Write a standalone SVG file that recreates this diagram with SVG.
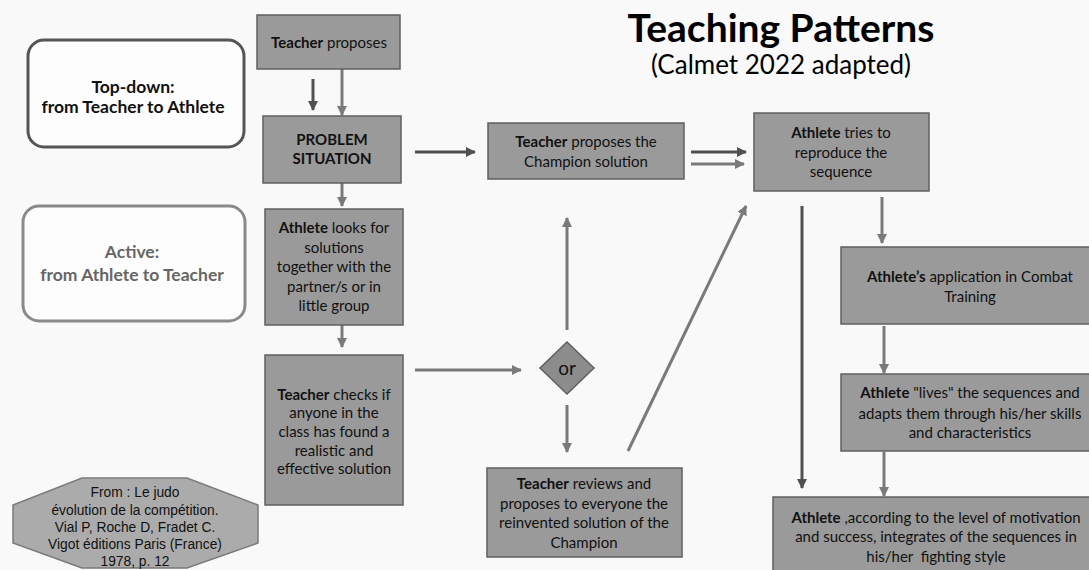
<svg xmlns="http://www.w3.org/2000/svg" width="1089" height="570" viewBox="0 0 1089 570">
<style>
.box{fill:#9a9a9a;stroke:#5f5f5f;stroke-width:1.5}
.t{font-family:Lato,"Open Sans",sans-serif;font-size:15px;fill:#111;text-anchor:middle}
.b{font-weight:bold}
.lg{font-size:17.5px}
.dk{stroke:#505050;stroke-width:3;fill:none}
.gy{stroke:#7a7a7a;stroke-width:3;fill:none}
</style>
<defs>
<marker id="ad" viewBox="0 0 10 10" refX="9" refY="5" markerWidth="10" markerHeight="10" markerUnits="userSpaceOnUse" orient="auto"><path d="M0,0 L10,5 L0,10 z" fill="#505050"/></marker>
<marker id="ag" viewBox="0 0 10 10" refX="9" refY="5" markerWidth="10" markerHeight="10" markerUnits="userSpaceOnUse" orient="auto"><path d="M0,0 L10,5 L0,10 z" fill="#7a7a7a"/></marker>
</defs>
<rect width="1089" height="570" fill="#f9f9f9"/>
<g id="title">
<text x="781" y="42" font-family="Lato,'Open Sans',sans-serif" font-weight="bold" font-size="39" text-anchor="middle" fill="#000">Teaching Patterns</text>
<text x="781" y="74" font-family="Lato,'Open Sans',sans-serif" font-size="26" text-anchor="middle" fill="#000">(Calmet 2022 adapted)</text>
</g>
<g id="connectors">
<line class="dk" x1="313" y1="79" x2="313" y2="110" marker-end="url(#ad)"/>
<line class="gy" x1="342" y1="69" x2="342" y2="115" marker-end="url(#ag)"/>
<line class="gy" x1="342" y1="183" x2="342" y2="206" marker-end="url(#ag)"/>
<line class="gy" x1="342" y1="325" x2="342" y2="347" marker-end="url(#ag)"/>
<line class="dk" x1="415" y1="152" x2="475" y2="152" marker-end="url(#ad)"/>
<line class="dk" x1="691" y1="152" x2="746" y2="152" marker-end="url(#ad)"/>
<line class="gy" x1="691" y1="164" x2="744" y2="164" marker-end="url(#ag)"/>
<line class="gy" x1="415" y1="370" x2="521" y2="370" marker-end="url(#ag)"/>
<line class="gy" x1="567" y1="330" x2="567" y2="218" marker-end="url(#ag)"/>
<line class="gy" x1="567" y1="405" x2="567" y2="452" marker-end="url(#ag)"/>
<line class="gy" x1="628" y1="451" x2="746" y2="206" marker-end="url(#ag)"/>
<line class="dk" x1="802" y1="206" x2="802" y2="488" marker-end="url(#ad)"/>
<line class="gy" x1="882" y1="197" x2="882" y2="243" marker-end="url(#ag)"/>
<line class="gy" x1="884" y1="326" x2="884" y2="373" marker-end="url(#ag)"/>
<line class="gy" x1="884" y1="452" x2="884" y2="496" marker-end="url(#ag)"/>
</g>
<g id="topdown">
<rect x="28" y="40" width="216" height="107" rx="16" fill="#fdfdfd" stroke="#555" stroke-width="3"/>
<text class="t b lg" x="133" y="93">Top-down:</text>
<text class="t b lg" x="133" y="113">from Teacher to Athlete</text>
</g>
<g id="active">
<rect x="23" y="206" width="222" height="115" rx="16" fill="#fdfdfd" stroke="#8a8a8a" stroke-width="3"/>
<text class="t b lg" x="132" y="258" style="fill:#666">Active:</text>
<text class="t b lg" x="132" y="281" style="fill:#666">from Athlete to Teacher</text>
</g>
<g id="teacher-proposes">
<rect class="box" x="257" y="15" width="143" height="54"/>
<text class="t" x="329" y="48"><tspan class="b">Teacher</tspan> proposes</text>
</g>
<g id="problem">
<rect class="box" x="263" y="116" width="138" height="67"/>
<text class="t b" x="332" y="145">PROBLEM</text>
<text class="t b" x="332" y="164">SITUATION</text>
</g>
<g id="athlete-looks">
<rect class="box" x="265" y="209" width="138" height="116"/>
<text class="t" x="334" y="233"><tspan class="b">Athlete</tspan> looks for</text>
<text class="t" x="334" y="253">solutions</text>
<text class="t" x="334" y="272">together with the</text>
<text class="t" x="334" y="292">partner/s or in</text>
<text class="t" x="334" y="311">little group</text>
</g>
<g id="teacher-checks">
<rect class="box" x="265" y="355" width="138" height="150"/>
<text class="t" x="334" y="400"><tspan class="b">Teacher</tspan> checks if</text>
<text class="t" x="334" y="418">anyone in the</text>
<text class="t" x="334" y="437">class has found a</text>
<text class="t" x="334" y="456">realistic and</text>
<text class="t" x="334" y="474">effective solution</text>
</g>
<g id="champion">
<rect class="box" x="488" y="123" width="196" height="56"/>
<text class="t" x="586" y="147"><tspan class="b">Teacher</tspan> proposes the</text>
<text class="t" x="586" y="167">Champion solution</text>
</g>
<g id="athlete-tries">
<rect class="box" x="754" y="113" width="175" height="78"/>
<text class="t" x="841" y="138"><tspan class="b">Athlete</tspan> tries to</text>
<text class="t" x="841" y="158">reproduce the</text>
<text class="t" x="841" y="177">sequence</text>
</g>
<g id="or">
<polygon points="567,342 594,368 567,394 540,368" fill="#8c8c8c" stroke="#5f5f5f" stroke-width="1.5"/>
<text class="t" x="567" y="375" style="font-size:19px">or</text>
</g>
<g id="teacher-reviews">
<rect class="box" x="487" y="468" width="195" height="89"/>
<text class="t" x="584" y="489"><tspan class="b">Teacher</tspan> reviews and</text>
<text class="t" x="584" y="509">proposes to everyone the</text>
<text class="t" x="584" y="528">reinvented solution of the</text>
<text class="t" x="584" y="548">Champion</text>
</g>
<g id="application">
<rect class="box" x="841" y="247" width="258" height="77"/>
<text class="t" x="970" y="282"><tspan class="b">Athlete’s</tspan> application in Combat</text>
<text class="t" x="970" y="302">Training</text>
</g>
<g id="lives">
<rect class="box" x="841" y="374" width="258" height="77"/>
<text class="t" x="970" y="398"><tspan class="b">Athlete</tspan> "lives" the sequences and</text>
<text class="t" x="970" y="419">adapts them through his/her skills</text>
<text class="t" x="970" y="438">and characteristics</text>
</g>
<g id="according">
<rect class="box" x="773" y="497" width="326" height="80"/>
<text class="t" x="936" y="523"><tspan class="b">Athlete</tspan> ,according to the level of motivation</text>
<text class="t" x="936" y="542">and success, integrates of the sequences in</text>
<text class="t" x="936" y="562" xml:space="preserve">his/her  fighting style</text>
</g>
<g id="source">
<polygon points="82,478 187,478 258,505 258,543 187,568 82,568 13,543 13,505" fill="#ababab" stroke="#7a7a7a" stroke-width="1.5"/>
<g font-family="'Liberation Sans',Arial,sans-serif" font-size="13.8" fill="#111" text-anchor="middle">
<text x="135" y="497">From : Le judo</text>
<text x="135" y="515">évolution de la compétition.</text>
<text x="135" y="532">Vial P, Roche D, Fradet C.</text>
<text x="135" y="549">Vigot éditions Paris (France)</text>
<text x="135" y="566">1978, p. 12</text>
</g>
</g>
</svg>
